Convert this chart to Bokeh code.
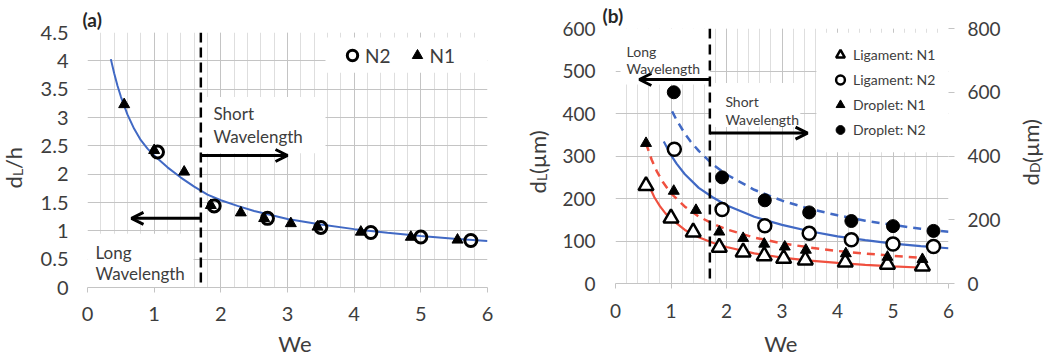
from math import pi
from bokeh.plotting import figure
from bokeh.models import (Range1d, LinearAxis, FixedTicker, Span, Arrow, OpenHead,
                          Label, BoxAnnotation, Legend, LegendItem)
from bokeh.core.properties import value
from bokeh.layouts import row, column
from bokeh.embed import file_html
from bokeh.resources import INLINE

FONT = "Lato"
TXT = "#3d3d3d"
BLUE = "#4169c4"
RED = "#f0503f"
GRID_MAJOR = "#c4c4c4"
GRID_MINOR = "#dedede"

# ---------------- Panel (a) data ----------------
a_n2_we = [1.05, 1.9, 2.7, 3.5, 4.25, 5.0, 5.75]
a_n2_dlh = [2.39, 1.44, 1.22, 1.06, 0.97, 0.89, 0.83]
a_n1_we = [0.55, 1.0, 1.45, 1.85, 2.3, 2.65, 3.05, 3.45, 4.1, 4.85, 5.55]
a_n1_dlh = [3.23, 2.42, 2.04, 1.45, 1.32, 1.22, 1.13, 1.07, 0.98, 0.89, 0.84]
a_fit_we = [0.35, 0.4, 0.45, 0.5, 0.6, 0.7, 0.8, 0.9, 1.0, 1.2, 1.4, 1.6, 1.8, 2.0,
            2.25, 2.5, 2.75, 3.0, 3.5, 4.0, 4.5, 5.0, 5.5, 6.0]
a_fit_dlh = [4.03, 3.78, 3.56, 3.37, 3.05, 2.80, 2.60, 2.45, 2.33, 2.12, 1.94, 1.78, 1.64,
             1.54, 1.44, 1.35, 1.28, 1.21, 1.11, 1.03, 0.965, 0.91, 0.862, 0.82]

a_xticks = [0, 1, 2, 3, 4, 5, 6]
a_yticks = [0, 0.5, 1, 1.5, 2, 2.5, 3, 3.5, 4, 4.5]
a_ytick_labels = ["0", "0.5", "1", "1.5", "2", "2.5", "3", "3.5", "4", "4.5"]

# ---------------- Panel (b) data ----------------
b_lig_n1_we = [0.55, 1.0, 1.4, 1.87, 2.3, 2.68, 3.03, 3.42, 4.14, 4.9, 5.53]
b_lig_n1_dl = [230, 154, 121, 85, 74, 65, 59, 55, 50, 45, 41]
b_lig_n2_we = [1.06, 1.92, 2.69, 3.49, 4.25, 5.0, 5.73]
b_lig_n2_dl = [316, 174, 136, 118, 103, 93, 87]
b_drop_n1_we = [0.55, 1.05, 1.45, 1.87, 2.3, 2.68, 3.05, 3.43, 4.15, 4.9, 5.53]
b_drop_n1_dd = [440, 290, 230, 162, 142, 124, 115, 105, 94, 83, 76]
b_drop_n2_we = [1.05, 1.92, 2.69, 3.49, 4.25, 5.0, 5.73]
b_drop_n2_dd = [600, 333, 261, 223, 196, 180, 165]

b_lig_n1_fit_we = [0.6, 0.7, 0.8, 0.9, 1.0, 1.25, 1.5, 1.75, 2.0, 2.5, 3.0, 3.5, 4.0, 4.5, 5.0, 5.56]
b_lig_n1_fit_dl = [231, 203, 182, 165, 152, 126, 109, 96, 86, 71, 61, 54, 48.5, 44, 40.3, 37]
b_lig_n2_fit_we = [0.87, 1.0, 1.1, 1.25, 1.5, 1.75, 2.0, 2.5, 3.0, 3.5, 4.0, 4.5, 5.0, 5.5, 6.0]
b_lig_n2_fit_dl = [334, 302, 282, 257, 225, 203, 184, 157, 138, 123, 111, 102, 94, 88, 83]
b_drop_n1_fit_we = [0.55, 0.65, 0.75, 0.85, 1.0, 1.25, 1.5, 1.75, 2.0, 2.5, 3.0, 3.5, 4.0, 4.5, 5.0, 5.46]
b_drop_n1_fit_dd = [440, 389, 350, 319, 283, 241, 210, 188, 170, 144, 126, 113, 102, 94, 87, 81]
b_drop_n2_fit_we = [1.02, 1.1, 1.25, 1.35, 1.5, 1.75, 2.0, 2.5, 3.0, 3.5, 4.0, 4.5, 5.0, 5.5, 6.0]
b_drop_n2_fit_dd = [540, 513, 470, 446, 416, 374, 342, 294, 260, 234, 214, 197, 183.5, 172, 162]

b_xticks = [0, 1, 2, 3, 4, 5, 6]
b_yticks_left = [0, 100, 200, 300, 400, 500, 600]
b_yticks_right = [0, 200, 400, 600, 800]

x_minor = [round(0.2 * i, 1) for i in range(31)]
WE_BOUNDARY = 1.7


def base_style(p, tick_size, x_standoff, y_standoff):
    p.outline_line_color = None
    p.background_fill_color = "white"
    p.border_fill_color = "white"
    p.xgrid.grid_line_color = GRID_MAJOR
    p.xgrid.minor_grid_line_color = GRID_MINOR
    p.ygrid.grid_line_color = GRID_MAJOR
    for ax in p.xaxis:
        ax.axis_line_color = GRID_MAJOR
        ax.major_tick_line_color = GRID_MAJOR
        ax.major_tick_out = 5
        ax.major_tick_in = 0
        ax.minor_tick_line_color = None
        ax.major_label_text_font = FONT
        ax.major_label_text_font_size = f"{tick_size}px"
        ax.major_label_text_color = TXT
        ax.major_label_standoff = x_standoff
    for ax in p.yaxis:
        ax.axis_line_color = None
        ax.major_tick_line_color = None
        ax.major_tick_out = 0
        ax.major_tick_in = 0
        ax.minor_tick_line_color = None
        ax.major_label_text_font = FONT
        ax.major_label_text_font_size = f"{tick_size}px"
        ax.major_label_text_color = TXT
        ax.major_label_standoff = y_standoff
    p.title.text_font = FONT
    p.title.text_font_size = "19px"
    p.title.text_font_style = "bold"
    p.title.text_color = "#262626"
    p.title.align = "left"
    p.title.standoff = 3


def add_box(p, left, right, bottom, top):
    p.add_layout(BoxAnnotation(left=left, right=right, bottom=bottom, top=top,
                               fill_color="white", fill_alpha=1.0, line_color=None,
                               level="underlay"))


def add_text(p, x, y, text, size):
    p.add_layout(Label(x=x, y=y, text=text, text_font=FONT, text_font_size=f"{size}px",
                       text_color=TXT, text_baseline="alphabetic"))


def add_arrow(p, x0, x1, y, size, width):
    p.add_layout(Arrow(end=OpenHead(size=size, line_width=width, line_color="black"),
                       x_start=x0, y_start=y, x_end=x1, y_end=y,
                       line_width=width, line_color="black"))


def text_fig(width, height):
    f = figure(width=width, height=height, x_range=Range1d(0, width), y_range=Range1d(0, height),
               min_border=0, x_axis_type=None, y_axis_type=None,
               toolbar_location=None, output_backend="svg")
    f.title.visible = False
    f.outline_line_color = None
    f.background_fill_color = "white"
    f.border_fill_color = "white"
    return f


def vlabel_fig(width, x, y0, parts):
    """Narrow strip holding a vertical axis title built from pieces (for the subscript)."""
    f = text_fig(width, 360)
    y = y0
    for text, size, dx, w in parts:
        f.text(x=[x + dx], y=[y], text=[text], angle=pi / 2,
               text_font=value(FONT), text_font_size=f"{size}px", text_color=TXT,
               text_align="left", text_baseline="alphabetic")
        y += w
    return f


def xlabel_fig(width, cx, text):
    f = text_fig(width, 30)
    f.text(x=[cx], y=[17], text=[text], text_font=value(FONT), text_font_size="22px",
           text_color=TXT, text_align="center", text_baseline="alphabetic")
    return f


# ================= Figure (a) =================
pa = figure(width=484, height=330, min_border_left=51, min_border_right=33,
            min_border_top=32, min_border_bottom=43, title="(a)",
            x_range=Range1d(0, 6), y_range=Range1d(0, 4.5),
            toolbar_location=None, output_backend="svg")
pa.xaxis.ticker = FixedTicker(ticks=a_xticks, minor_ticks=x_minor)
pa.yaxis.ticker = FixedTicker(ticks=a_yticks)
pa.yaxis.major_label_overrides = {t: l for t, l in zip(a_yticks, a_ytick_labels)}
base_style(pa, 20, 14, 19)
pa.title.offset = -5

add_box(pa, 3.57, 6.0, 3.79, 4.41)       # legend background
add_box(pa, 1.7, 3.57, 2.37, 3.36)       # short wavelength text
add_box(pa, 0.0, 1.59, 0.0, 0.95)        # long wavelength text

pa.line(a_fit_we, a_fit_dlh, line_color=BLUE, line_width=2)
r_a_n1 = pa.scatter(a_n1_we, a_n1_dlh, marker="triangle", size=11,
                    fill_color="black", line_color="black")
r_a_n2 = pa.scatter(a_n2_we, a_n2_dlh, marker="circle", size=12, fill_color=None,
                    line_color="black", line_width=3)

pa.add_layout(Span(location=WE_BOUNDARY, dimension="height", line_color="black",
                   line_width=2.5, line_dash="10 5"))
add_arrow(pa, WE_BOUNDARY, 3.0, 2.33, 12, 3)
add_arrow(pa, WE_BOUNDARY, 0.66, 1.22, 12, 3)
add_text(pa, 1.89, 3.07, "Short", 17)
add_text(pa, 1.89, 2.66, "Wavelength", 17)
add_text(pa, 0.12, 0.62, "Long", 17)
add_text(pa, 0.12, 0.25, "Wavelength", 17)

legend_a = Legend(items=[LegendItem(label="N2", renderers=[r_a_n2]),
                         LegendItem(label="N1", renderers=[r_a_n1])],
                  orientation="horizontal", location=(252, 219),
                  glyph_width=26, glyph_height=26, label_standoff=0, spacing=13,
                  padding=0, margin=0, background_fill_alpha=0, border_line_color=None,
                  label_text_font=FONT, label_text_font_size="19px", label_text_color=TXT)
pa.add_layout(legend_a)

# ================= Figure (b) =================
pb = figure(width=454, height=330, min_border_left=59, min_border_right=62,
            min_border_top=28, min_border_bottom=47, title="(b)",
            x_range=Range1d(0, 6), y_range=Range1d(0, 600),
            toolbar_location=None, output_backend="svg")
pb.extra_y_ranges = {"right": Range1d(0, 800)}
pb.xaxis.ticker = FixedTicker(ticks=b_xticks, minor_ticks=x_minor)
pb.yaxis.ticker = FixedTicker(ticks=b_yticks_left)
right_axis = LinearAxis(y_range_name="right", ticker=FixedTicker(ticks=b_yticks_right))
pb.add_layout(right_axis, "right")
base_style(pb, 19, 15, 20)
pb.title.offset = -13
right_axis.major_tick_line_color = GRID_MAJOR
right_axis.major_tick_out = 6
right_axis.major_label_standoff = 13

add_box(pb, 0.09, WE_BOUNDARY, 468, 600)   # long wavelength text
add_box(pb, WE_BOUNDARY, 3.33, 368, 472)   # short wavelength text
add_box(pb, 3.62, 6.0, 309, 590)           # legend background

pb.line(b_lig_n1_fit_we, b_lig_n1_fit_dl, line_color=RED, line_width=2.2)
pb.line(b_lig_n2_fit_we, b_lig_n2_fit_dl, line_color=BLUE, line_width=2.2)
pb.line(b_drop_n1_fit_we, b_drop_n1_fit_dd, y_range_name="right", line_color=RED,
        line_width=2.5, line_dash="8 6")
pb.line(b_drop_n2_fit_we, b_drop_n2_fit_dd, y_range_name="right", line_color=BLUE,
        line_width=2.5, line_dash="8 6")

r_lig_n1 = pb.scatter(b_lig_n1_we, b_lig_n1_dl, marker="triangle", size=15,
                      fill_color="white", line_color="black", line_width=2.5)
r_drop_n1 = pb.scatter(b_drop_n1_we, b_drop_n1_dd, y_range_name="right", marker="triangle",
                       size=11, fill_color="black", line_color="black")
r_lig_n2 = pb.scatter(b_lig_n2_we, b_lig_n2_dl, marker="circle", size=13,
                      fill_color="white", line_color="black", line_width=2.5)
r_drop_n2 = pb.scatter(b_drop_n2_we, b_drop_n2_dd, y_range_name="right", marker="circle",
                       size=13, fill_color="black", line_color="black")

pb.add_layout(Span(location=WE_BOUNDARY, dimension="height", line_color="black",
                   line_width=2.5, line_dash="10 6"))
add_arrow(pb, WE_BOUNDARY, 3.46, 354, 12, 3)
add_arrow(pb, WE_BOUNDARY, 0.43, 480, 12, 3)
add_text(pb, 1.98, 428, "Short", 14)
add_text(pb, 1.98, 385, "Wavelength", 14)
add_text(pb, 0.2, 546, "Long", 14)
add_text(pb, 0.2, 505, "Wavelength", 14)

legend_b = Legend(items=[LegendItem(label="Ligament: N1", renderers=[r_lig_n1]),
                         LegendItem(label="Ligament: N2", renderers=[r_lig_n2]),
                         LegendItem(label="Droplet: N1", renderers=[r_drop_n1]),
                         LegendItem(label="Droplet: N2", renderers=[r_drop_n2])],
                  orientation="vertical", location=(214, 141),
                  glyph_width=22, glyph_height=25, label_standoff=2, spacing=0,
                  padding=0, margin=0, background_fill_alpha=0, border_line_color=None,
                  label_text_font=FONT, label_text_font_size="14px", label_text_color=TXT)
pb.add_layout(legend_b)

# ================= axis titles =================
lab_a = vlabel_fig(36, 13, 172, [("d", 22, 0, 12.6), ("L", 14, 4, 6.8), ("/h", 22, 0, 21)])
lab_b = vlabel_fig(36, 17, 167, [("d", 22, 0, 12.6), ("L", 14, 4, 6.8), ("(µm)", 22, 0, 45)])
lab_r = vlabel_fig(36, 20, 175, [("d", 22, 0, 12.6), ("D", 14, 4, 10), ("(µm)", 22, 0, 45)])
we_a = xlabel_fig(484, 251, "We")
we_b = xlabel_fig(454, 225.5, "We")

layout = row(lab_a, column(pa, we_a), lab_b, column(pb, we_b), lab_r)
open("out.html", "w").write(file_html(layout, INLINE))
